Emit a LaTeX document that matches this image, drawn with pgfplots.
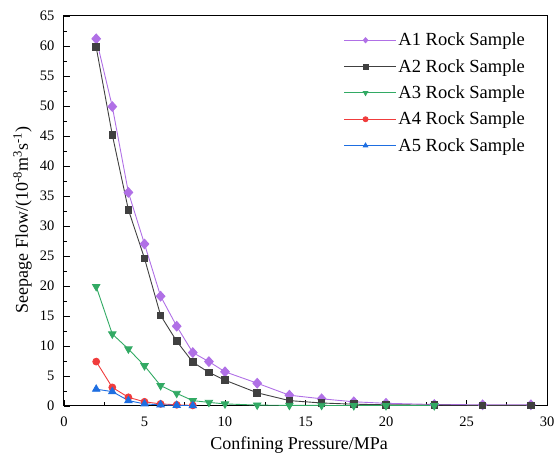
\documentclass[border=0pt]{standalone}
\usepackage{pgfplots}
\pgfplotsset{compat=1.18}
\usepackage{fontspec}
\setmainfont{Liberation Serif}
\definecolor{cA1}{RGB}{176,112,230}
\definecolor{cA2}{RGB}{64,64,64}
\definecolor{cA3}{RGB}{50,170,100}
\definecolor{cA4}{RGB}{240,60,60}
\definecolor{cA5}{RGB}{30,110,225}
\begin{document}
\begin{tikzpicture}
\begin{axis}[
  name=ax,
  scale only axis,
  width=483pt, height=390pt,
  xmin=0, xmax=30, ymin=0, ymax=65,
  xtick={0,5,...,30}, ytick={0,5,...,65},
  minor x tick num=1, minor y tick num=1,
  tick align=inside,
  xtick pos=bottom, ytick pos=left,
  major tick length=6pt, minor tick length=3.5pt,
  axis line style={line width=1pt},
  every tick/.style={black, line width=0.8pt},
  /pgf/number format/assume math mode=true,
  ticklabel style={font=\fontsize{14.5}{17}\selectfont},
  yticklabel style={anchor=east, xshift=-6pt},
  xticklabel style={anchor=base, yshift=-21pt},
  xlabel={Confining Pressure/MPa},
  ylabel={Seepage Flow/(10\textsuperscript{-8}m\textsuperscript{3}s\textsuperscript{-1})},
  label style={font=\fontsize{18}{21}\selectfont},
  xlabel style={at={(axis description cs:0.487,0)}, anchor=base, yshift=-44pt},
  ylabel style={at={(axis description cs:0,0.477)}, anchor=base, yshift=36pt},
  legend style={at={(0.965,0.967)}, anchor=north east, draw=none, fill=none,
    font=\fontsize{18.5}{21}\selectfont, row sep=8pt},
  legend cell align=left,
  legend image code/.code={
    \draw[#1] (0pt,0pt) -- (43pt,0pt);
    \draw[#1, mark size=2.5pt] plot coordinates {(21.5pt,0pt)};
    \path (43pt,0pt) -- (52pt,0pt);
  },
  every axis plot/.append style={line width=0.9pt},
]
\addplot[cA1, mark=diamond*, mark size=4.8pt, mark options={xscale=1.2}] coordinates {
(2,61.2) (3,49.9) (4,35.6) (5,27.0) (6,18.3) (7,13.3) (8,8.9) (9,7.4) (10,5.7)
(12,3.8) (14,1.8) (16,1.2) (18,0.7) (20,0.45) (23,0.25) (26,0.2) (29,0.2)};
\addlegendentry{A1 Rock Sample}
\addplot[cA2, mark=square*, mark size=3.3pt] coordinates {
(2,59.8) (3,45.2) (4,32.7) (5,24.6) (6,15.1) (7,10.8) (8,7.3) (9,5.6) (10,4.3)
(12,2.2) (14,0.9) (16,0.5) (18,0.3) (20,0.2) (23,0.15) (26,0.1) (29,0.1)};
\addlegendentry{A2 Rock Sample}
\addplot[cA3, mark=triangle*, mark options={rotate=180}, mark size=4.2pt] coordinates {
(2,19.9) (3,12.0) (4,9.5) (5,6.7) (6,3.4) (7,2.1) (8,0.9) (9,0.6) (10,0.35)
(12,0.15) (14,0.1) (16,0.1) (18,0.05) (20,0.05) (23,0.05)};
\addlegendentry{A3 Rock Sample}
\addplot[cA4, mark=*, mark size=3.4pt] coordinates {
(2,7.4) (3,3.1) (4,1.45) (5,0.7) (6,0.35) (7,0.2) (8,0.1)};
\addlegendentry{A4 Rock Sample}
\addplot[cA5, mark=triangle*, mark size=4.2pt] coordinates {
(2,2.8) (3,2.4) (4,0.9) (5,0.35) (6,0.2) (7,0.1) (8,0.05)};
\addlegendentry{A5 Rock Sample}
\end{axis}
\pgfresetboundingbox
\path[use as bounding box] ([shift={(-64pt,-51pt)}]ax.south west) rectangle ([shift={(7pt,16pt)}]ax.north east);
\end{tikzpicture}
\end{document}
